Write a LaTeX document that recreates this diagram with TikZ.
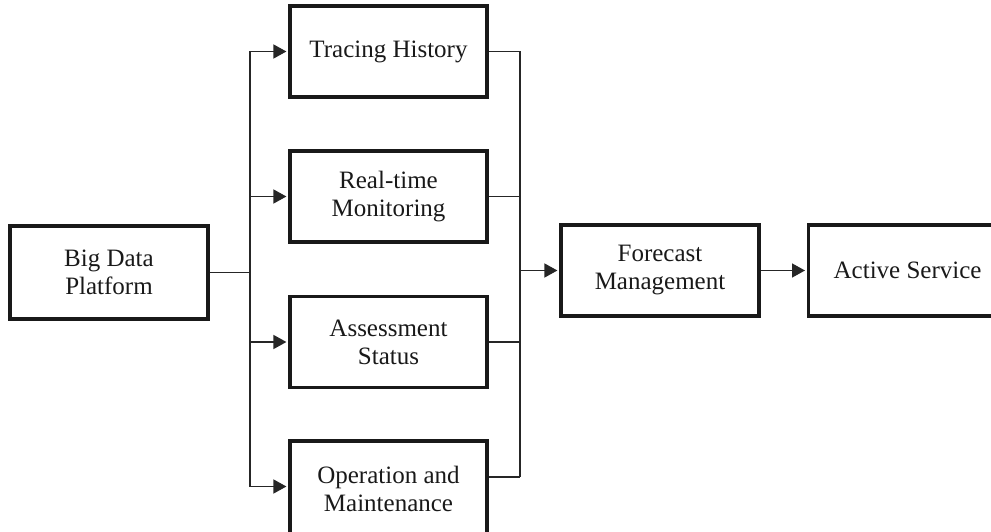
\documentclass[tikz,border=0pt]{standalone}
\usepackage{fontspec}
\setmainfont{Liberation Serif}
\usetikzlibrary{arrows.meta}
\begin{document}
\begin{tikzpicture}[x=1pt,y=-1pt,
  box/.style={draw=black!90, line width=3.2pt, minimum width=197pt, minimum height=91pt,
    inner sep=0pt, align=center, font=\fontsize{25}{28}\selectfont, text=black!90},
  conn/.style={draw=black!85, line width=1.6pt},
  arr/.style={conn, -{Triangle[length=13pt,width=14pt]}, shorten >=2pt}]
\useasboundingbox (0,0) rectangle (991,532);
\clip (0,0) rectangle (991,532);
\node[box, minimum width=198pt, minimum height=93pt] (big) at (109,272.5) {Big Data\\Platform};
\node[box] (trace) at (388.5,51.5) {Tracing History};
\node[box] (real) at (388.5,196.5) {Real-time\\Monitoring};
\node[box] (assess) at (388.5,342) {Assessment\\Status};
\node[box, minimum height=96pt] (oper) at (388.5,489) {Operation and\\Maintenance};
\node[box, minimum width=198pt] (fore) at (660,270.5) {Forecast\\Management};
\node[box, minimum width=198pt, anchor=west] (act) at (807,270.5) {Active Service};
\coordinate (tr) at (250,272.5);
\coordinate (col) at (520,270.5);
% left distribution
\draw[conn] (big.east) -- (tr);
\draw[conn] (tr |- trace.west) -- (tr |- real.west) -- (tr |- assess.west) -- (tr |- 0,486.5);
\draw[arr] (tr |- trace.west) -- (trace.west);
\draw[arr] (tr |- real.west) -- (real.west);
\draw[arr] (tr |- assess.west) -- (assess.west);
\draw[arr] (tr |- 0,486.5) -- (oper.west |- 0,486.5);
% right collection
\draw[conn] (trace.east) -- (col |- trace.east);
\draw[conn] (real.east) -- (col |- real.east);
\draw[conn] (assess.east) -- (col |- assess.east);
\draw[conn] (oper.east |- 0,477) -- (col |- 0,477);
\draw[conn] (col |- trace.east) -- (col |- 0,477);
\draw[arr] (col) -- (fore.west);
\draw[arr] (fore.east) -- (act.west);
\end{tikzpicture}
\end{document}
